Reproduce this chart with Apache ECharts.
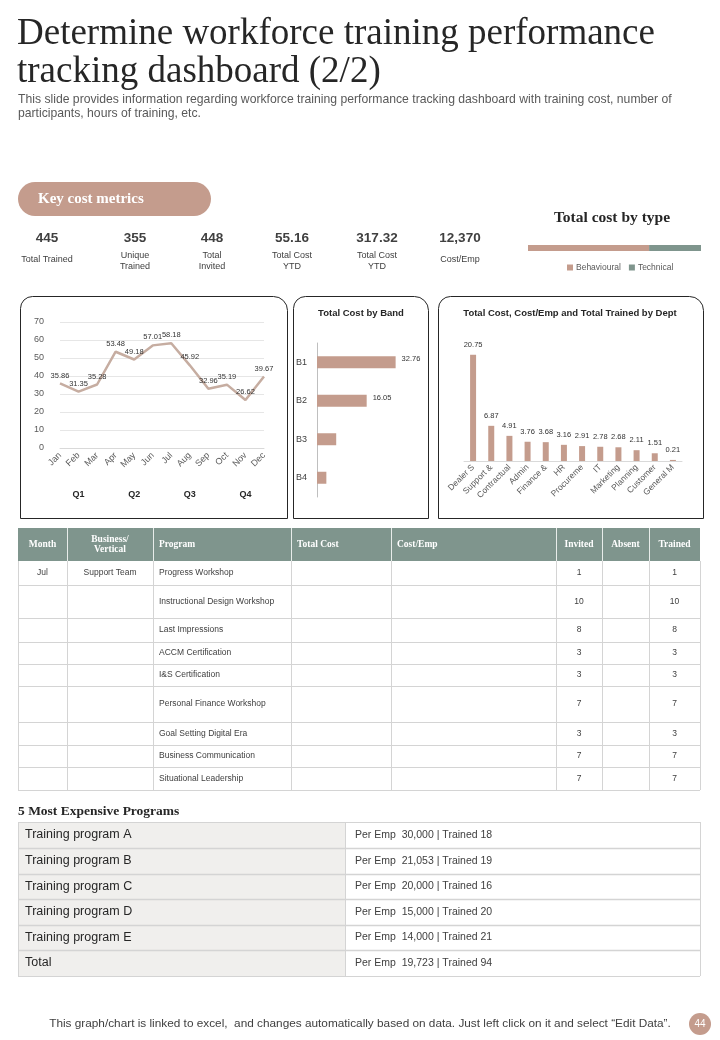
<!DOCTYPE html>
<html><head><meta charset="utf-8">
<script src="https://cdn.jsdelivr.net/npm/echarts@6/dist/echarts.min.js"></script>
<style>html,body{margin:0;padding:0;background:#fff}#c{width:720px;height:1040px}</style>
</head><body><div id="c"></div>
<script>
// ---------- DATA ----------
const titleLines = ['Determine workforce training performance', 'tracking dashboard (2/2)'];
const subtitleLines = ['This slide provides information regarding workforce training performance tracking dashboard with training cost, number of', 'participants, hours of training, etc.'];
const sectionLabel = 'Key cost metrics';
const metricValues = ['445', '355', '448', '55.16', '317.32', '12,370'];
const metricLabels = ['Total Trained', 'Unique\nTrained', 'Total\nInvited', 'Total Cost\nYTD', 'Total Cost\nYTD', 'Cost/Emp'];
const costTypeTitle = 'Total cost by type';
const costTypes = ['Behavioural', 'Technical'];
const costTypeValues = [70, 30];
const months = ['Jan', 'Feb', 'Mar', 'Apr', 'May', 'Jun', 'Jul', 'Aug', 'Sep', 'Oct', 'Nov', 'Dec'];
const quarters = ['Q1', 'Q2', 'Q3', 'Q4'];
const monthlyCost = [35.86, 31.35, 35.28, 53.48, 49.18, 57.01, 58.18, 45.92, 32.96, 35.19, 26.62, 39.67];
const yTicks = [0, 10, 20, 30, 40, 50, 60, 70];
const bandTitle = 'Total Cost by Band';
const bands = ['B1', 'B2', 'B3', 'B4'];
const bandCost = [32.76, 20.7, 8.0, 3.9];
const bandLabels = ['32.76', '16.05', '', ''];
const deptTitle = 'Total Cost, Cost/Emp and Total Trained by Dept';
const depts = ['Dealer S', 'Support &', 'Contractual', 'Admin', 'Finance &', 'HR', 'Procureme', 'IT', 'Marketing', 'Planning', 'Customer', 'General M'];
const deptCost = [20.75, 6.87, 4.91, 3.76, 3.68, 3.16, 2.91, 2.78, 2.68, 2.11, 1.51, 0.21];
const tableHeaders = ['Month', 'Business/\nVertical', 'Program', 'Total Cost', 'Cost/Emp', 'Invited', 'Absent', 'Trained'];
const tableMonth = ['Jul', '', '', '', '', '', '', '', ''];
const tableVertical = ['Support Team', '', '', '', '', '', '', '', ''];
const tablePrograms = ['Progress Workshop', 'Instructional Design Workshop', 'Last Impressions', 'ACCM Certification', 'I&S Certification', 'Personal Finance Workshop', 'Goal Setting Digital Era', 'Business Communication', 'Situational Leadership'];
const tableInvited = [1, 10, 8, 3, 3, 7, 3, 7, 7];
const tableTrained = [1, 10, 8, 3, 3, 7, 3, 7, 7];
const topTitle = '5 Most Expensive Programs';
const topPrograms = ['Training program A', 'Training program B', 'Training program C', 'Training program D', 'Training program E', 'Total'];
const topPerEmp = ['30,000', '21,053', '20,000', '15,000', '14,000', '19,723'];
const topTrained = [18, 19, 16, 20, 21, 94];
const footerText = 'This graph/chart is linked to excel,  and changes automatically based on data. Just left click on it and select \u201cEdit Data\u201d.';
const pageNumber = '44';

// ---------- STYLE / LAYOUT ----------
const ROSE = '#c49c8d', SAGE = '#7f958d', SANS = '"Liberation Sans", Arial, sans-serif', SERIF = '"Liberation Serif", "DejaVu Serif", serif';
const g = [];
function T(x, y, text, o) {
  o = o || {};
  const al = o.align || 'left', va = o.va || 'middle';
  g.push({ type: 'text', x: x, y: y, z: 20, style: {
    text: text, fill: o.color || '#333', fontSize: o.size || 12, fontFamily: o.family || SANS,
    fontWeight: o.weight || 'normal', align: al, verticalAlign: va, textAlign: al, textVerticalAlign: va,
    lineHeight: o.lh || undefined } });
}
function R(x, y, w, h, o) {
  o = o || {};
  g.push({ type: 'rect', z: o.z || 5, shape: { x: x, y: y, width: w, height: h, r: o.r || 0 },
    style: { fill: o.fill || 'none', stroke: o.stroke || null, lineWidth: o.lw || 1 } });
}
function L(x1, y1, x2, y2, c, lw) {
  g.push({ type: 'line', z: 8, shape: { x1: x1, y1: y1, x2: x2, y2: y2 }, style: { stroke: c, lineWidth: lw || 1 } });
}

// title
T(17, 34, titleLines[0], { size: 37, family: SERIF, color: '#262626' });
T(17, 72, titleLines[1], { size: 37, family: SERIF, color: '#262626' });
T(18, 100, subtitleLines[0], { size: 12.2, color: '#595959' });
T(18, 114, subtitleLines[1], { size: 12.2, color: '#595959' });

// key cost metrics pill
R(18, 182, 193, 34, { r: 17, fill: ROSE });
T(38, 199, sectionLabel, { size: 15, family: SERIF, weight: 'bold', color: '#fff' });
const metricX = [47, 135, 212, 292, 377, 460];
metricValues.forEach(function (v, i) {
  T(metricX[i], 238, v, { size: 13.5, weight: 'bold', align: 'center', color: '#404040' });
  const two = metricLabels[i].indexOf('\n') >= 0;
  T(metricX[i], two ? 261 : 260, metricLabels[i], { size: 9, align: 'center', color: '#404040', lh: 11 });
});
T(612, 218, costTypeTitle, { size: 15.5, family: SERIF, weight: 'bold', align: 'center', color: '#262626' });

// panels
const panels = [[20, 296, 267, 222], [293, 296, 135, 222], [438, 296, 265, 222]];
panels.forEach(function (p) { R(p[0] + 0.5, p[1] + 0.5, p[2], p[3], { r: [12, 14, 0, 0], stroke: '#262626', lw: 1 }); });
T(361, 313, bandTitle, { size: 9.5, weight: 'bold', align: 'center', color: '#262626' });
T(570, 313, deptTitle, { size: 9.5, weight: 'bold', align: 'center', color: '#262626' });

// main table
const colX = [18, 67, 153, 291, 391, 556, 602, 649, 700];
const rowY = [561, 585, 618, 642, 664, 686, 722, 745, 767, 790];
R(18, 528, 682, 33, { fill: SAGE });
for (let i = 1; i < colX.length - 1; i++) L(colX[i] + 0.5, 528, colX[i] + 0.5, 561, '#e8ecea', 1);
tableHeaders.forEach(function (h, i) {
  const left = (i === 2 || i === 3 || i === 4);
  const x = left ? colX[i] + 6 : (colX[i] + colX[i + 1]) / 2;
  T(x, 544.5, h, { size: 9.5, family: SERIF, weight: 'bold', color: '#fff', align: left ? 'left' : 'center', lh: 10 });
});
for (let r = 0; r < tablePrograms.length; r++) {
  const cy = (rowY[r] + rowY[r + 1]) / 2;
  T((colX[0] + colX[1]) / 2, cy, tableMonth[r], { size: 8.5, align: 'center', color: '#404040' });
  T((colX[1] + colX[2]) / 2, cy, tableVertical[r], { size: 8.5, align: 'center', color: '#404040' });
  T(colX[2] + 6, cy, tablePrograms[r], { size: 8.5, color: '#404040' });
  T((colX[5] + colX[6]) / 2, cy, String(tableInvited[r]), { size: 8.5, align: 'center', color: '#404040' });
  T((colX[7] + colX[8]) / 2, cy, String(tableTrained[r]), { size: 8.5, align: 'center', color: '#404040' });
  L(18, rowY[r + 1] + 0.5, 700, rowY[r + 1] + 0.5, '#d4d4d4');
}
colX.forEach(function (x) { L(x + 0.5, 561, x + 0.5, 790, '#d4d4d4'); });

// 5 most expensive
T(18, 812, topTitle, { size: 13.5, family: SERIF, weight: 'bold', color: '#262626' });
const topY = [822, 848, 874, 899, 925, 950, 976];
R(18, 822, 327, 154, { fill: '#f0efed', z: 3 });
topPrograms.forEach(function (p, i) {
  const cy = (topY[i] + topY[i + 1]) / 2;
  T(25, cy, p, { size: 12.5, color: '#262626' });
  T(355, cy, 'Per Emp  ' + topPerEmp[i] + ' | Trained ' + topTrained[i], { size: 10.5, color: '#404040' });
});
topY.forEach(function (y) { L(18, y + 0.5, 700, y + 0.5, '#d4d4d4', y === 822 || y === 976 ? 1 : 1.5); });
[18, 345, 700].forEach(function (x) { L(x + 0.5, 822, x + 0.5, 976, '#d4d4d4'); });

// footer
T(360, 1024, footerText, { size: 11.8, align: 'center', color: '#404040' });
g.push({ type: 'circle', z: 10, shape: { cx: 700, cy: 1024, r: 11 }, style: { fill: ROSE } });
T(700, 1024, pageNumber, { size: 10, align: 'center', color: '#fff' });

// ---------- CHART ----------
const chart = echarts.init(document.getElementById('c'), null, { renderer: 'canvas' });
const axisTxt = { color: '#595959', fontFamily: SANS };
chart.setOption({
  animation: false,
  backgroundColor: '#fff',
  textStyle: { fontFamily: SANS },
  legend: { data: costTypes, left: 562, top: 258, icon: 'rect', itemWidth: 6, itemHeight: 6, itemGap: 8,
    textStyle: { fontSize: 8.5, color: '#595959', padding: [0, 0, 0, -2] } },
  grid: [
    { left: 60, top: 322, width: 204, height: 126 },
    { left: 317, top: 343, width: 96, height: 154 },
    { left: 464, top: 333, width: 218, height: 128 },
    { left: 528, top: 245, width: 173, height: 6 }
  ],
  xAxis: [
    { type: 'category', gridIndex: 0, data: months, boundaryGap: false,
      axisLine: { lineStyle: { color: '#d9d9d9' } }, axisTick: { show: false },
      axisLabel: Object.assign({ rotate: 45, fontSize: 9, interval: 0, margin: 6 }, axisTxt) },
    { type: 'category', gridIndex: 0, data: months.map(function (m, i) { return i % 3 === 1 ? quarters[(i - 1) / 3] : ''; }),
      boundaryGap: false, position: 'bottom', offset: 34,
      axisLine: { show: false }, axisTick: { show: false },
      axisLabel: { interval: 0, fontSize: 9, fontWeight: 'bold', color: '#262626', margin: 8 } },
    { type: 'value', gridIndex: 1, min: 0, max: 40, show: false },
    { type: 'category', gridIndex: 2, data: depts,
      axisLine: { lineStyle: { color: '#d9d9d9' } }, axisTick: { show: false },
      axisLabel: Object.assign({ rotate: 45, fontSize: 8.5, interval: 0, margin: 5 }, axisTxt) },
    { type: 'value', gridIndex: 3, min: 0, max: 100, show: false }
  ],
  yAxis: [
    { type: 'value', gridIndex: 0, min: 0, max: 70, interval: 10,
      axisLine: { show: false }, axisTick: { show: false },
      splitLine: { lineStyle: { color: '#e6e6e6' } },
      axisLabel: Object.assign({ fontSize: 9, margin: 16 }, axisTxt) },
    { type: 'category', gridIndex: 1, data: bands, inverse: true,
      axisLine: { lineStyle: { color: '#bfbfbf' } }, axisTick: { show: false },
      axisLabel: { fontSize: 9, color: '#404040', margin: 10 } },
    { type: 'value', gridIndex: 2, min: 0, max: 25, show: false },
    { type: 'category', gridIndex: 3, data: ['Cost'], show: false }
  ],
  series: [
    { type: 'line', name: 'Monthly cost', xAxisIndex: 0, yAxisIndex: 0, data: monthlyCost,
      symbol: 'circle', symbolSize: 0.01, showSymbol: true,
      lineStyle: { color: '#c6ada1', width: 2.5 }, itemStyle: { color: '#c6ada1' },
      label: { show: true, position: 'top', distance: 4, fontSize: 7.5, color: '#333' } },
    { type: 'bar', name: 'Band', xAxisIndex: 2, yAxisIndex: 1, data: bandCost, barWidth: 12,
      itemStyle: { color: ROSE },
      label: { show: true, position: 'right', distance: 6, offset: [0, -3], fontSize: 7.5, color: '#333',
        formatter: function (p) { return bandLabels[p.dataIndex]; } } },
    { type: 'bar', name: 'Dept', xAxisIndex: 3, yAxisIndex: 2, data: deptCost, barWidth: 6,
      itemStyle: { color: ROSE },
      label: { show: true, position: 'top', distance: 6, fontSize: 7.5, color: '#333' } },
    { type: 'bar', name: costTypes[0], xAxisIndex: 4, yAxisIndex: 3, stack: 'ct', data: [costTypeValues[0]],
      barWidth: 6, itemStyle: { color: ROSE } },
    { type: 'bar', name: costTypes[1], xAxisIndex: 4, yAxisIndex: 3, stack: 'ct', data: [costTypeValues[1]],
      barWidth: 6, itemStyle: { color: SAGE } }
  ],
  graphic: { elements: g }
});
</script>
</body></html>
